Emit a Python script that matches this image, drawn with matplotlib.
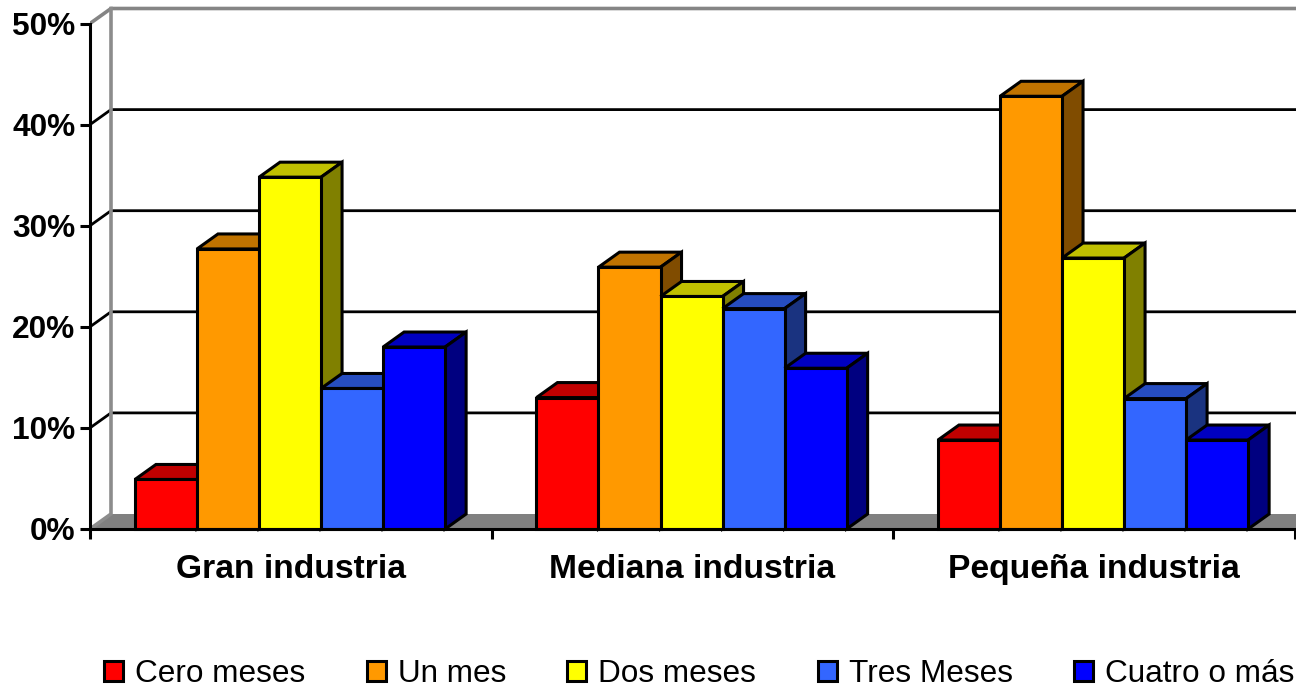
#!/usr/bin/env python3
"""Fake-3D clustered bar chart, old Excel look. Depth is drawn by hand."""
import matplotlib
matplotlib.use("Agg")
import matplotlib.pyplot as plt
from matplotlib.patches import Patch, Polygon

plt.rcParams["font.family"] = ["Liberation Sans", "DejaVu Sans"]

categories = ["Gran industria", "Mediana industria", "Pequeña industria"]
series_names = ["Cero meses", "Un mes", "Dos meses", "Tres Meses", "Cuatro o más"]
cero_meses = [4.9, 13.0, 8.8]
un_mes = [27.7, 25.9, 42.8]
dos_meses = [34.8, 23.0, 26.8]
tres_meses = [13.9, 21.8, 12.9]
cuatro_o_mas = [18.0, 15.9, 8.8]
y_ticks = [0, 10, 20, 30, 40, 50]

series_values = [cero_meses, un_mes, dos_meses, tres_meses, cuatro_o_mas]
# front, top, side
colors = [("#FF0000", "#C00000", "#800000"),
          ("#FF9900", "#C07300", "#804C00"),
          ("#FFFF00", "#C0C000", "#808000"),
          ("#3366FF", "#264DC0", "#1A3380"),
          ("#0000FF", "#0000C0", "#000080")]

W, H = 1296, 688
LEFT, BOTTOM = 90, 529
CAT_PX = 401.5
PCT_PX = 10.11
EDGE = 2.2

fig = plt.figure(figsize=(W / 100, H / 100), dpi=100)
ax = fig.add_axes([LEFT / W, 1 - BOTTOM / H, (W - LEFT) / W, BOTTOM / H])
ax.set_xlim(0, (W - LEFT) / CAT_PX)
ax.set_ylim(0, BOTTOM / PCT_PX)

# depth offset in data units
dx = 21 / CAT_PX
dy = 15 / PCT_PX
x_end = (W - LEFT) / CAT_PX

# floor
ax.add_patch(Polygon([(0, 0), (dx, dy), (x_end, dy), (x_end, 0)],
                     facecolor="#808080", edgecolor="none", zorder=1))

# back wall: grid lines and the grey frame
for t in y_ticks[1:-1]:
    ax.plot([0, dx, x_end], [t, t + dy, t + dy], color="black", lw=2.0,
            solid_joinstyle="miter", zorder=1.5)
ax.plot([0, dx, x_end], [y_ticks[-1], y_ticks[-1] + dy, y_ticks[-1] + dy],
        color="#858585", lw=2.6, solid_joinstyle="miter", zorder=1.5)
ax.plot([dx, dx, 0], [y_ticks[-1] + dy, dy, 0], color="#8c8c8c", lw=2.6,
        solid_joinstyle="miter", zorder=1.5)

# bars, left to right so the next bar paints over the previous side face
bar_w = 0.1545
offset = 0.112
z = 2
for c in range(len(categories)):
    for s, values in enumerate(series_values):
        x0 = c + offset + s * bar_w
        x1 = x0 + bar_w
        v = values[c]
        front, top, side = colors[s]
        ax.add_patch(Polygon([(x0, v), (x0 + dx, v + dy), (x1 + dx, v + dy), (x1, v)],
                             facecolor=top, edgecolor="black", lw=EDGE,
                             joinstyle="miter", zorder=z, clip_on=False))
        ax.add_patch(Polygon([(x1, 0), (x1 + dx, dy), (x1 + dx, v + dy), (x1, v)],
                             facecolor=side, edgecolor="black", lw=EDGE,
                             joinstyle="miter", zorder=z, clip_on=False))
        ax.bar(x0, v, width=bar_w, align="edge", color=front, edgecolor="black",
               linewidth=EDGE, zorder=z + 0.1, clip_on=False)
        z += 0.2

ax.set_xlim(0, x_end)
ax.set_ylim(0, BOTTOM / PCT_PX)

for name in ("top", "right"):
    ax.spines[name].set_visible(False)
ax.spines["left"].set_linewidth(EDGE)
ax.spines["left"].set_bounds(y_ticks[0], y_ticks[-1])
ax.spines["bottom"].set_linewidth(EDGE)
ax.spines["left"].set_zorder(20)
ax.spines["bottom"].set_zorder(20)

ax.set_yticks(y_ticks)
ax.set_yticklabels([f"{t}%" for t in y_ticks], fontsize=22.8, fontweight="bold")
ax.tick_params(axis="y", length=7.5, width=EDGE, pad=3)

ax.set_xticks(range(len(categories) + 1))
ax.set_xticklabels([])
ax.tick_params(axis="x", which="major", length=7.5, width=EDGE)
ax.set_xticks([c + 0.5 for c in range(len(categories))], minor=True)
ax.set_xticklabels(categories, minor=True, fontsize=24.2, fontweight="bold")
ax.tick_params(axis="x", which="minor", length=0, pad=18)

handles = [Patch(facecolor=colors[i][0], edgecolor="black", linewidth=EDGE)
           for i in range(len(series_names))]
fig.legend(handles, series_names, loc="center left", bbox_to_anchor=(104 / W, 1 - 674 / H),
           ncol=5, frameon=False, fontsize=22.7, borderpad=0, borderaxespad=0,
           handlelength=0.6, handleheight=0.6, handletextpad=0.38, columnspacing=1.95)

fig.savefig("out.png", dpi=100)
plt.close(fig)
